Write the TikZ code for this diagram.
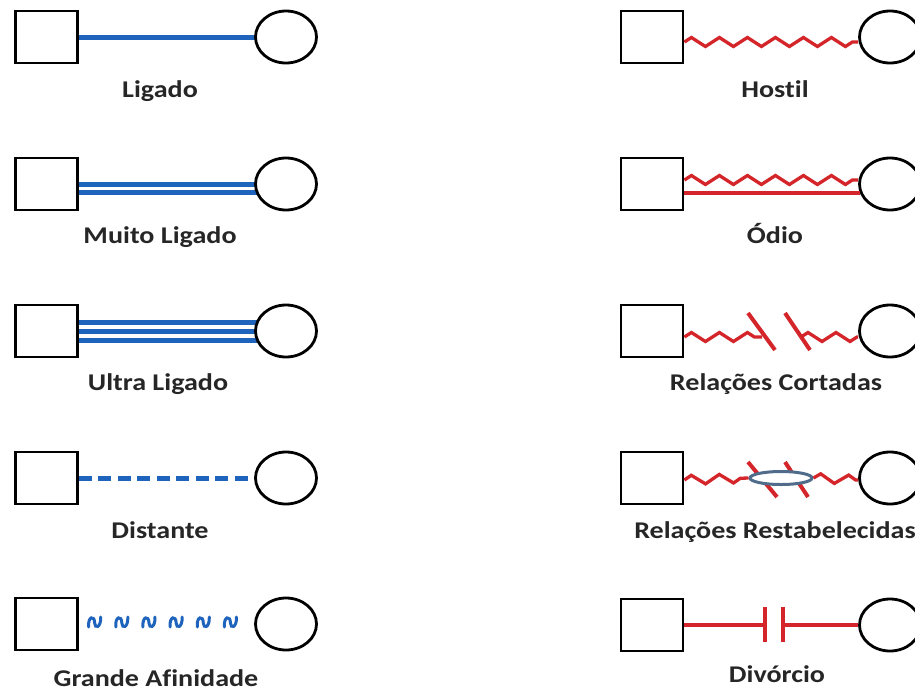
\documentclass[tikz,border=0pt]{standalone}
\usepackage{fontspec}
\setmainfont{Carlito}[FakeStretch=1.17, Ligatures=NoCommon, BoldFont={Carlito Bold}]
\usetikzlibrary{decorations.pathmorphing,calc,shapes.geometric,backgrounds}
\definecolor{lblue}{RGB}{31,100,188}
\definecolor{lred}{RGB}{212,38,42}
\definecolor{egray}{RGB}{80,108,138}
\begin{document}
\begin{tikzpicture}[x=1pt,y=-1pt,
  male/.style={draw=black, line width=2.8pt, fill=white, minimum width=62pt, minimum height=52pt, inner sep=0pt},
  female/.style={draw=black, line width=2.8pt, fill=white, ellipse, minimum width=61pt, minimum height=52pt, inner sep=0pt},
  lbl/.style={font=\fontsize{24}{28}\selectfont\bfseries, anchor=base, text=black!85},
  bl/.style={lblue, line width=5pt},
  rd/.style={lred, line width=3.3pt},
  zz/.style={rd, decorate, decoration={zigzag, segment length=28pt, amplitude=4.5pt}},
  slash/.style={lred, line width=4pt},
  wave/.style={lblue, line width=3pt, line cap=round},
  knot/.style={draw=egray, line width=3pt, fill=white, ellipse, minimum width=62pt, minimum height=13pt, inner sep=0pt}
]
\path[use as bounding box] (0,0) rectangle (915,691);

% ---------- left column ----------
\node[male]   (sqA1) at (46.5,37)  {};
\node[female] (ciA1) at (286,37)   {};
\node[male]   (sqA2) at (46.5,184) {};
\node[female] (ciA2) at (286,184)  {};
\node[male]   (sqA3) at (46.5,331) {};
\node[female] (ciA3) at (286,331)  {};
\node[male]   (sqA4) at (46.5,478) {};
\node[female] (ciA4) at (286,478)  {};
\node[male]   (sqA5) at (46.5,624) {};
\node[female] (ciA5) at (286,624)  {};

\node[lbl] (lbA1) at (160,97)  {Ligado};
\node[lbl] (lbA2) at (160,243) {Muito Ligado};
\node[lbl] (lbA3) at (158,390) {Ultra Ligado};
\node[lbl] (lbA4) at (160,538) {Distante};
\node[lbl] (lbA5) at (156,686) {Grande Afinidade};

% ---------- right column ----------
\node[male]   (sqB1) at (652,37)  {};
\node[female] (ciB1) at (890,37)  {};
\node[male]   (sqB2) at (652,184) {};
\node[female] (ciB2) at (890,184) {};
\node[male]   (sqB3) at (652,331) {};
\node[female] (ciB3) at (890,331) {};
\node[male]   (sqB4) at (652,478) {};
\node[female] (ciB4) at (890,478) {};
\node[male]   (sqB5) at (652,625) {};
\node[female] (ciB5) at (890,625) {};

\node[lbl] (lbB1) at (775,97)  {Hostil};
\node[lbl] (lbB2) at (775,243) {Ódio};
\node[lbl] (lbB3) at (776,390) {Relações Cortadas};
\node[lbl] (lbB4) at (775,538) {Relações Restabelecidas};
\node[lbl] (lbB5) at (777,682) {Divórcio};

\node[knot] (knot) at (781,478) {};

\coordinate (cutL) at (762,337);
\coordinate (cutR) at (801,337);
\coordinate (divL) at (765,625);
\coordinate (divR) at (783,625);

\begin{scope}[on background layer]
  \fill[white] (0,0) rectangle (915,691);
  % Ligado
  \draw[bl] (sqA1.center) -- (ciA1.center);
  % Muito Ligado
  \draw[bl] ($(sqA2.center)+(0,0.5)$) -- ($(ciA2.center)+(0,0.5)$);
  \draw[bl] ($(sqA2.center)+(0,8.5)$) -- ($(ciA2.center)+(0,8.5)$);
  % Ultra Ligado
  \draw[bl] ($(sqA3.center)+(0,-8.5)$) -- ($(ciA3.center)+(0,-8.5)$);
  \draw[bl] ($(sqA3.center)+(0,0.5)$) -- ($(ciA3.center)+(0,0.5)$);
  \draw[bl] ($(sqA3.center)+(0,9.5)$) -- ($(ciA3.center)+(0,9.5)$);
  % slashes of Restabelecidas (behind the knot)
  \draw[slash] (748,462) -- (777,497);
  \draw[slash] (785,462) -- (808,497);
\end{scope}

% Distante
\draw[bl, dash pattern=on 13pt off 6.5pt] (sqA4.east) -- (ciA4.west);

% Grande Afinidade
\foreach \t/\n in {0.09/1,0.245/2,0.40/3,0.555/4,0.71/5,0.865/6} {
  \coordinate (w\n) at ($(sqA5.east)!\t!(ciA5.west)+(0,-2)$);
  \draw[wave, shift={(w\n)}] (-6,5) .. controls (-7,-6) and (0,-7) .. (0,1)
        .. controls (0,7) and (6.5,6) .. (6,-5);
}

% Hostil
\draw[zz] ($(sqB1.east)+(0,5)$) -- ($(ciB1.west)+(0,5)$);
% Ódio
\draw[zz] ($(sqB2.east)+(0,-4)$) -- ($(ciB2.west)+(0,-4)$);
\draw[rd, line width=3.7pt] ($(sqB2.east)+(0,9)$) -- ($(ciB2.west)+(1.5,9)$);
% Relações Cortadas
\draw[zz] ($(sqB3.east)+(0,6)$) -- (cutL);
\draw[zz] (cutR) -- ($(ciB3.west)+(0,6)$);
\draw[slash] (748,313) -- (775,350);
\draw[slash] (785,313) -- (810,350);
% Relações Restabelecidas
\draw[zz] ($(sqB4.east)+(0,2)$) -- (knot.west);
\draw[zz] (knot.east) -- ($(ciB4.west)+(0,2)$);
% Divórcio
\draw[rd, line width=4pt] (sqB5.east) -- (divL);
\draw[rd, line width=4pt] (divR) -- (ciB5.west);
\draw[slash] ($(divL)+(0,-18)$) -- ($(divL)+(0,17)$);
\draw[slash] ($(divR)+(0,-18)$) -- ($(divR)+(0,17)$);
\end{tikzpicture}
\end{document}
